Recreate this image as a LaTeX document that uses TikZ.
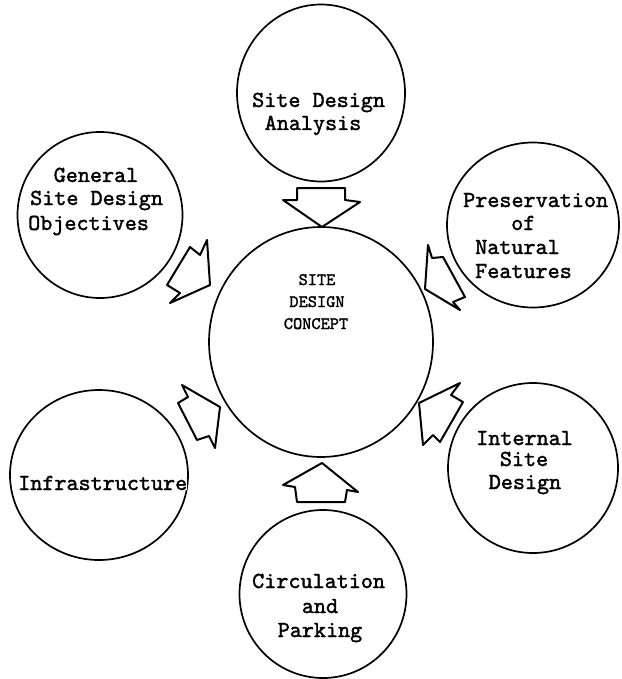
\documentclass[tikz,border=0pt]{standalone}
\usepackage{fontspec}
\newfontfamily\typew[FakeBold=1.6]{lmmono10-regular.otf}
\usetikzlibrary{shapes.geometric}
\begin{document}
\begin{tikzpicture}[x=1pt,y=-1pt,
  blob/.style={draw, ellipse, line width=1.7pt, inner sep=0pt},
  hollow/.style={draw, line width=2pt, line join=round},
  lbl/.style={font=\typew\fontsize{23}{24}\selectfont, inner sep=0pt},
  core/.style={font=\typew\fontsize{17.5}{20}\selectfont, inner sep=0pt, anchor=base}]
\useasboundingbox (0,0) rectangle (621,679);
% circles
\node[blob, minimum width=168pt, minimum height=177pt] (sda) at (321,93) {};
\node[blob, minimum width=165pt, minimum height=166pt] (gsdo) at (100,215) {};
\node[blob, minimum width=172pt, minimum height=165pt] (pres) at (533,225) {};
\node[blob, minimum width=224pt, minimum height=230pt] (concept) at (321,342) {};
\node[blob, minimum width=170pt, minimum height=170pt] (isd) at (533,468) {};
\node[blob, minimum width=178pt, minimum height=170pt] (infra) at (99,475) {};
\node[blob, minimum width=167pt, minimum height=168pt] (circ) at (323,594) {};
% arrows
\draw[hollow] (297,188) -- (297,200) -- (283,200) -- (322,227) -- (360,202) -- (345,200) -- (345,188) -- cycle;
\draw[hollow] (190,247) -- (200,255) -- (207,240) -- (210,285) -- (170,303) -- (180,293) -- (167,285) -- cycle;
\draw[hollow] (443,257) -- (432,258) -- (428,245) -- (425,289) -- (460,310) -- (453,302) -- (465,297) -- cycle;
\draw[hollow] (463,402) -- (451,395) -- (460,383) -- (419,403) -- (423,445) -- (433,435) -- (440,442) -- cycle;
\draw[hollow] (178,403) -- (188,397) -- (182,385) -- (220,407) -- (215,448) -- (209,436) -- (197,440) -- cycle;
\draw[hollow] (297,502) -- (295,487) -- (283,485) -- (322,463) -- (358,492) -- (347,490) -- (345,502) -- cycle;
% texts
\node[lbl, anchor=base west] (t1a) at (252,107) {Site Design};
\node[lbl, anchor=base] (t1b) at (313,130) {Analysis};
\node[lbl, anchor=base] (t2a) at (96,182) {General};
\node[lbl, anchor=base west] (t2b) at (30,205) {Site Design};
\node[lbl, anchor=base west] (t2c) at (28,230) {Objectives};
\node[lbl, anchor=base west] (t3a) at (463,207) {Preservation};
\node[lbl, anchor=base west] (t3b) at (511,230) {of};
\node[lbl, anchor=base west] (t3c) at (475,254) {Natural};
\node[lbl, anchor=base west] (t3d) at (475,278) {Features};
\node[core] (c1) at (317,285) {SITE};
\node[core] (c2) at (317,307) {DESIGN};
\node[core] (c3) at (316,329) {CONCEPT};
\node[lbl, anchor=base west] (t4a) at (476,445) {Internal};
\node[lbl, anchor=base] (t4b) at (524,466) {Site};
\node[lbl, anchor=base] (t4c) at (525,489) {Design};
\node[lbl, anchor=base west, fill=white] (t5) at (18,490) {Infrastructure};
\node[lbl, anchor=base west] (t6a) at (252,588) {Circulation};
\node[lbl, anchor=base] (t6b) at (320,613) {and};
\node[lbl, anchor=base] (t6c) at (320,637) {Parking};
\end{tikzpicture}
\end{document}
